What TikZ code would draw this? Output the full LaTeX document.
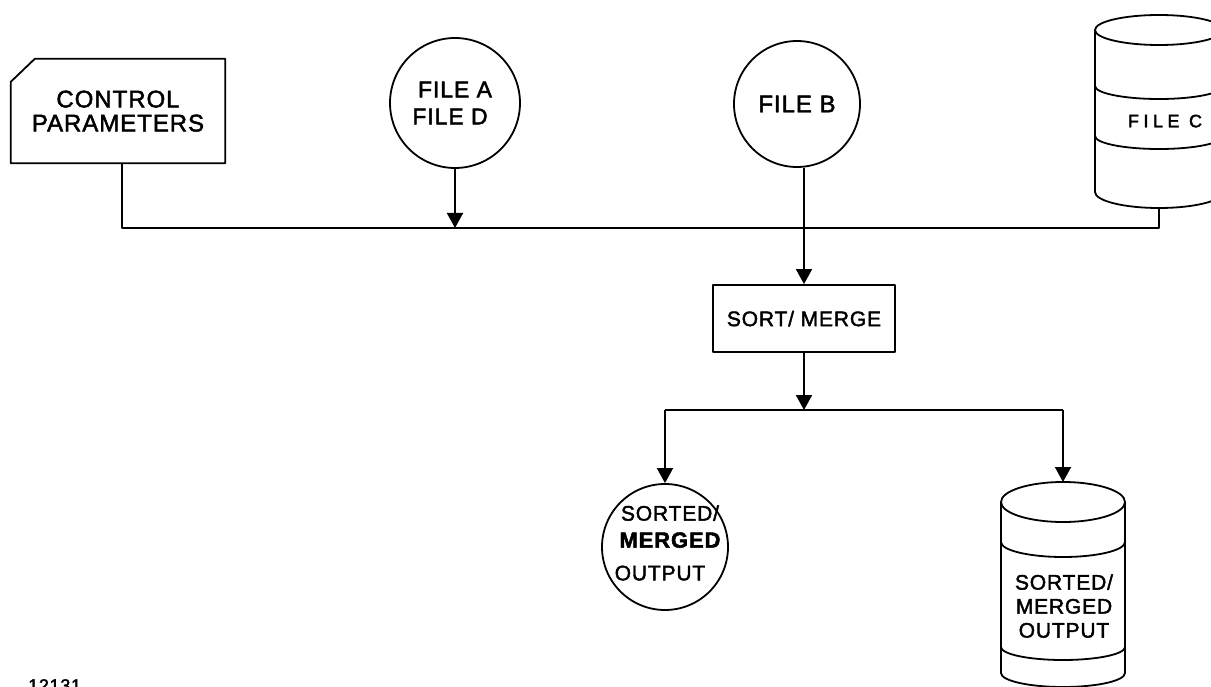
\documentclass[tikz,border=0pt]{standalone}
\usepackage{fontspec}
\newfontfamily\hand[LetterSpace=4, FakeBold=2]{Liberation Sans}
\usetikzlibrary{arrows.meta}
\newcommand\lettersize[2]{\fontsize{#1}{#2}\selectfont}
\tikzset{
  ink/.style={line width=1.8pt, line join=round},
  flow/.style={ink, -{Triangle[width=16pt,length=15pt]}},
  lbl/.style={font=\hand, inner sep=0pt, align=center, text depth=0pt},
  disk/.style={circle, draw, ink, inner sep=0pt, align=center},
}
\begin{document}
\begin{tikzpicture}[x=1pt,y=-1pt]
\useasboundingbox (0,0) rectangle (1211,687);
\clip (0,0) rectangle (1211,687);

% punched card with the control parameters
\node[lbl, minimum width=214pt, minimum height=104pt, font=\hand\lettersize{24}{24}]
  (ctrl) at (118,111) {CONTROL\\PARAMETERS};
\draw[ink] (ctrl.south west) -- ([yshift=-23pt]ctrl.north west)
  -- ([xshift=24pt]ctrl.north west) -- (ctrl.north east)
  -- (ctrl.south east) -- cycle;

% tape files
\node[disk, minimum size=130pt, font=\hand\lettersize{23}{27}] (fileA) at (455,103) {FILE A\\FILE D\hspace*{10pt}};
\node[disk, minimum size=126pt, font=\hand\lettersize{24}{24}] (fileB) at (797,104) {FILE B};

% disk file C
\draw[ink] (1159,30) ellipse [x radius=64pt, y radius=15pt];
\draw[ink] (1095,30) -- (1095,192)
  arc[start angle=180, end angle=360, x radius=64pt, y radius=16pt] -- (1223,30);
\draw[ink] (1095,86) arc[start angle=180, end angle=360, x radius=64pt, y radius=13pt];
\draw[ink] (1095,136) arc[start angle=180, end angle=360, x radius=64pt, y radius=13pt];
\node[lbl, font=\hand\lettersize{18}{18}\addfontfeature{LetterSpace=25}] (fileC) at (1165,121) {FILE C};
\coordinate (cbot) at (1159,208);
\coordinate (busC) at (1159,228);

% sort/merge process
\node[lbl, draw, ink, minimum width=182pt, minimum height=67pt, font=\hand\lettersize{21}{21}]
  (sort) at (804,318.5) {SORT/ MERGE};
\coordinate (split) at (804,410);

% output tape
\node[disk, minimum size=126pt] (outcirc) at (665,547) {};
\node[lbl, font=\hand\lettersize{21}{21}] (oc1) at (670,513) {SORTED/};
\node[lbl, font=\hand\lettersize{22}{22}\bfseries] (oc2) at (670,540) {MERGED};
\node[lbl, font=\hand\lettersize{21}{21}] (oc3) at (660,573) {OUTPUT};

% output disk
\draw[ink] (1063,502) ellipse [x radius=62pt, y radius=20pt];
\draw[ink] (1001,502) -- (1001,673)
  arc[start angle=180, end angle=360, x radius=62pt, y radius=14pt] -- (1125,502);
\draw[ink] (1001,542) arc[start angle=180, end angle=360, x radius=62pt, y radius=15pt];
\draw[ink] (1001,647) arc[start angle=180, end angle=360, x radius=62pt, y radius=13pt];
\node[lbl, font=\hand\lettersize{21}{24}] (outcyl) at (1064,606) {SORTED/\\MERGED\\OUTPUT};
\coordinate (cyltop) at (1063,482);

% connectors
\draw[ink] ([xshift=4pt]ctrl.south) |- (busC) -- (cbot);
\draw[flow] (fileA.south) -- (fileA.south |- busC);
\draw[flow] (fileB.south -| sort.north) -- (sort.north);
\draw[flow] (sort.south) -- (split);
\draw[ink] (outcirc.north |- split) -- (cyltop |- split);
\draw[flow] (outcirc.north |- split) -- (outcirc.north);
\draw[flow] (cyltop |- split) -- (cyltop);

% figure number
\node[lbl, font=\hand\lettersize{18}{18}, anchor=north west] (fignum) at (28,679) {12131};
\end{tikzpicture}
\end{document}
